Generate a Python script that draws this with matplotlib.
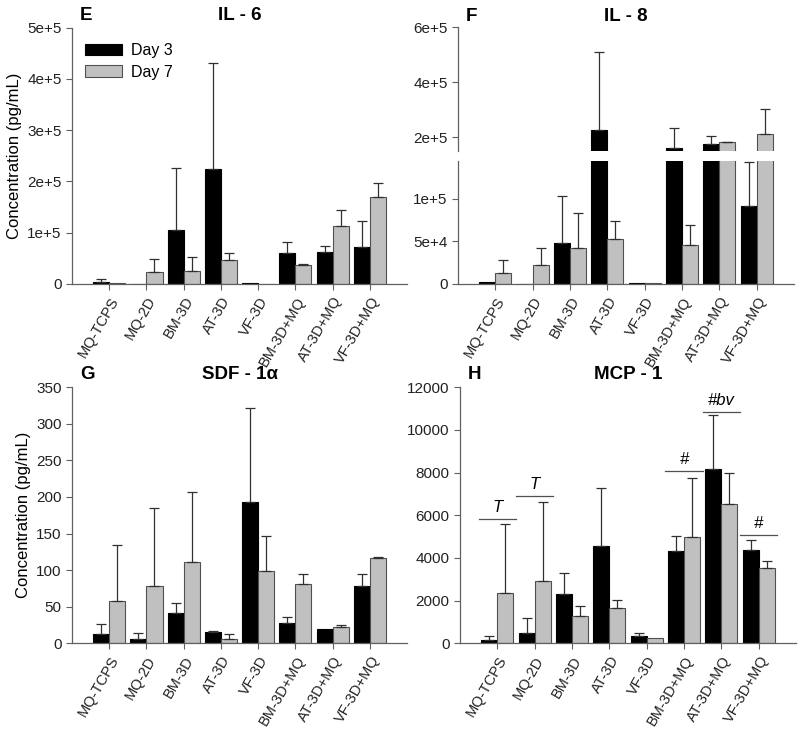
import numpy as np
import matplotlib
matplotlib.use("Agg")
import matplotlib.pyplot as plt

plt.rcParams['font.family'] = ['Liberation Sans', 'DejaVu Sans']

groups = ['MQ-TCPS', 'MQ-2D', 'BM-3D', 'AT-3D', 'VF-3D', 'BM-3D+MQ', 'AT-3D+MQ', 'VF-3D+MQ']

# IL-6
il6_d3 = [3300, 500, 105000, 224000, 1500, 60500, 62000, 72000]
il6_d3_err = [5900, 0, 122000, 208000, 0, 21500, 13000, 51000]
il6_d7 = [1000, 23400, 26200, 47700, 500, 37100, 113000, 170000]
il6_d7_err = [0, 25400, 26500, 12800, 0, 2700, 31000, 27000]

# IL-8
il8_d3 = [1800, 500, 47700, 226000, 800, 159000, 175600, 91800]
il8_d3_err = [0, 0, 55800, 284000, 0, 74800, 30400, 50800]
il8_d7 = [12500, 21900, 42200, 53100, 800, 45700, 181800, 213000]
il8_d7_err = [15600, 19900, 40700, 20800, 0, 23500, 2200, 89000]

# SDF-1a
sdf_d3 = [13, 5.5, 41, 15, 193.6, 27.3, 19.1, 78.8]
sdf_d3_err = [13, 8, 14.5, 1.8, 128, 9, 0, 15.5]
sdf_d7 = [58, 78, 110.7, 6.3, 98.8, 81.5, 22.2, 117]
sdf_d7_err = [76, 107, 96, 6.8, 48, 13.7, 3.2, 0.5]

# MCP-1
mcp_d3 = [143, 476, 2300, 4575, 362, 4340, 8185, 4390]
mcp_d3_err = [219, 729, 1000, 2715, 143, 690, 2505, 470]
mcp_d7 = [2380, 2900, 1267, 1667, 238, 4970, 6515, 3538]
mcp_d7_err = [3200, 3740, 493, 381, 0, 2780, 1465, 333]

sig_groups = [0, 1, 5, 6, 7]
sig_labels = ['T', 'T', '#', '#bv', '#']
sig_heights = [5830, 6920, 8090, 10840, 5060]

W = 0.43
SPINE = '#606060'
x = np.arange(len(groups))


def style(ax, xaxis=True):
    for s in ['top', 'right']:
        ax.spines[s].set_visible(False)
    for s in ['left', 'bottom']:
        ax.spines[s].set_color(SPINE)
        ax.spines[s].set_linewidth(0.9)
    ax.tick_params(axis='y', direction='out', length=4, width=0.8, color=SPINE,
                   labelsize=11, labelcolor='#222222')
    ax.set_xlim(-1, 8)
    if xaxis:
        ax.set_xticks(x)
        ax.set_xticklabels(groups, rotation=60, ha='right', rotation_mode='anchor',
                           fontsize=10.5, color='#222222')
        ax.tick_params(axis='x', direction='out', length=4, width=0.8, color=SPINE)
    else:
        ax.spines['bottom'].set_visible(False)
        ax.set_xticks([])


def draw(ax, d3, e3, d7, e7):
    d3, e3, d7, e7 = map(np.array, (d3, e3, d7, e7))
    ax.bar(x - W / 2, d3, W, color='black', edgecolor='black', linewidth=0.8, label='Day 3')
    ax.bar(x + W / 2, d7, W, color='#c0c0c0', edgecolor='#505050', linewidth=0.8, label='Day 7')
    for xs, d, e in [(x - W / 2, d3, e3), (x + W / 2, d7, e7)]:
        m = e > 0
        ax.errorbar(xs[m], d[m], yerr=[np.zeros(m.sum()), e[m]], fmt='none',
                    ecolor='#303030', elinewidth=0.9, capsize=3.6, capthick=0.9)


def head(ax, letter, title):
    ax.text(0.5, 1.015, title, transform=ax.transAxes, ha='center', va='bottom',
            fontsize=13.5, fontweight='bold')
    ax.text(0.024, 1.015, letter, transform=ax.transAxes, ha='left', va='bottom',
            fontsize=13.5, fontweight='bold')


fig = plt.figure(figsize=(8, 7.3), dpi=100)

# E - IL-6
axE = fig.add_axes([0.09, 0.611, 0.419, 0.351])
draw(axE, il6_d3, il6_d3_err, il6_d7, il6_d7_err)
style(axE)
axE.set_ylim(0, 5e5)
axE.set_yticks([0, 1e5, 2e5, 3e5, 4e5, 5e5])
axE.set_yticklabels(['0', '1e+5', '2e+5', '3e+5', '4e+5', '5e+5'])
axE.set_ylabel('Concentration (pg/mL)', fontsize=12)
head(axE, 'E', 'IL - 6')
axE.legend(loc='upper left', bbox_to_anchor=(0.039, 0.94), frameon=False, fontsize=11.5,
           handlelength=2.3, handleheight=0.75, borderpad=0, borderaxespad=0,
           labelspacing=0.4, handletextpad=0.6)

# F - IL-8 (broken axis)
axF = fig.add_axes([0.5725, 0.611, 0.42, 0.169])
draw(axF, il8_d3, il8_d3_err, il8_d7, il8_d7_err)
style(axF)
axF.set_ylim(0, 144500)
axF.set_yticks([0, 5e4, 1e5])
axF.set_yticklabels(['0', '5e+4', '1e+5'])

axF2 = fig.add_axes([0.5725, 0.7936, 0.42, 0.169])
draw(axF2, il8_d3, il8_d3_err, il8_d7, il8_d7_err)
style(axF2, xaxis=False)
axF2.set_ylim(151000, 600000)
axF2.set_yticks([2e5, 4e5, 6e5])
axF2.set_yticklabels(['2e+5', '4e+5', '6e+5'])
head(axF2, 'F', 'IL - 8')

# G - SDF-1a
axG = fig.add_axes([0.09, 0.1188, 0.419, 0.3507])
draw(axG, sdf_d3, sdf_d3_err, sdf_d7, sdf_d7_err)
style(axG)
axG.set_ylim(0, 350)
axG.set_yticks(np.arange(0, 351, 50))
axG.set_ylabel('Concentration (pg/mL)', fontsize=12)
head(axG, 'G', 'SDF - 1\u03b1')

# H - MCP-1
axH = fig.add_axes([0.575, 0.1188, 0.42, 0.3507])
draw(axH, mcp_d3, mcp_d3_err, mcp_d7, mcp_d7_err)
style(axH)
axH.set_ylim(0, 12000)
axH.set_yticks(np.arange(0, 12001, 2000))
head(axH, 'H', 'MCP - 1')
for g, lab, h in zip(sig_groups, sig_labels, sig_heights):
    axH.plot([g - 0.5, g + 0.5], [h, h], color='#505050', lw=0.9)
    axH.text(g, h + 180, lab, ha='center', va='bottom', fontsize=12, style='italic')

fig.savefig('out.png', dpi=100)
